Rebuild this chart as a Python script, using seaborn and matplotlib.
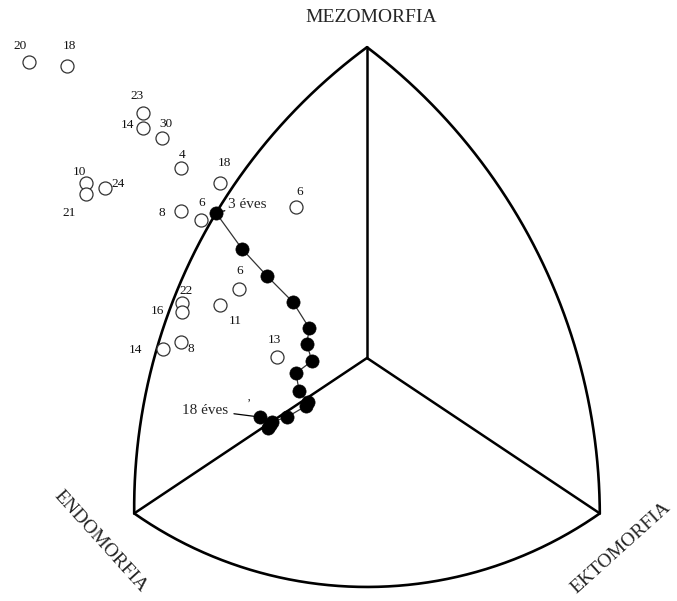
import numpy as np
import pandas as pd
import matplotlib
matplotlib.use("Agg")
import matplotlib.pyplot as plt
import seaborn as sns

# Somatochart coordinates: X = ecto - endo, Y = 2*meso - (endo + ecto)

# Open circles: reference groups, labelled with their code numbers
group_labels = ["20", "18", "23", "14", "30", "4", "18", "10", "21", "24",
                "8", "6", "6", "6", "11", "22", "16", "14", "8", "13"]
group_x = [-8.71, -7.73, -5.77, -5.77, -5.28, -4.79, -3.79, -7.24, -7.24, -6.75,
           -4.79, -4.28, -1.83, -3.30, -3.79, -4.77, -4.77, -5.26, -4.79, -2.32]
group_y = [11.43, 11.27, 9.46, 8.88, 8.49, 7.34, 6.76, 6.76, 6.33, 6.56,
           5.68, 5.33, 5.83, 2.66, 2.05, 2.12, 1.78, 0.35, 0.62, 0.04]

# Filled circles: mean somatotype by age, 3 to 18 years
ages = list(range(3, 19))
age_x = [-3.89, -3.22, -2.58, -1.91, -1.49, -1.55, -1.42, -1.83,
         -1.75, -1.52, -1.57, -2.06, -2.45, -2.55, -2.50, -2.76]
age_y = [5.60, 4.21, 3.17, 2.16, 1.16, 0.54, -0.12, -0.58,
         -1.27, -1.70, -1.85, -2.28, -2.47, -2.70, -2.59, -2.28]

# Chart frame: corners of the somatochart and a point on each bounding arc
corner_endo = (-6.0, -6.0)
corner_meso = (0.0, 12.0)
corner_ecto = (6.0, -6.0)
arc_mid_left = (-3.89, 5.60)
arc_mid_right = (3.94, 5.33)
arc_mid_bottom = (0.0, -8.84)

# Label offsets in pixels (dx, dy) for the group numbers
label_offsets = [(-9, 16), (2, 20), (-6, 17), (-16, 3), (4, 14), (1, 13), (5, 20),
                 (-7, 11), (-17, -19), (13, 4), (-19, -2), (1, 17), (4, 15),
                 (1, 18), (15, -16), (4, 12), (-24, 1), (-27, -1), (10, -7), (-3, 17)]

SX, SY = 38.8, 25.9  # pixels per unit on each axis
W, H = 677, 601
CX, CY = 367, 358    # pixel position of the origin

sns.set_theme(style="white")
plt.rcParams["font.family"] = ["Liberation Serif", "DejaVu Serif"]

fig = plt.figure(figsize=(W / 100, H / 100), dpi=100)
ax = fig.add_axes([0, 0, 1, 1])


def arc_through(p0, pm, p1, n=200):
    """Circular arc (circular on screen) from p0 through pm to p1."""
    a = np.array([p0[0] * SX, p0[1] * SY])
    b = np.array([pm[0] * SX, pm[1] * SY])
    c = np.array([p1[0] * SX, p1[1] * SY])
    d = 2 * (a[0] * (b[1] - c[1]) + b[0] * (c[1] - a[1]) + c[0] * (a[1] - b[1]))
    ux = ((a @ a) * (b[1] - c[1]) + (b @ b) * (c[1] - a[1]) + (c @ c) * (a[1] - b[1])) / d
    uy = ((a @ a) * (c[0] - b[0]) + (b @ b) * (a[0] - c[0]) + (c @ c) * (b[0] - a[0])) / d
    r = np.hypot(a[0] - ux, a[1] - uy)
    t0 = np.arctan2(a[1] - uy, a[0] - ux)
    tm = np.arctan2(b[1] - uy, b[0] - ux)
    t1 = np.arctan2(c[1] - uy, c[0] - ux)
    t1u = t0 + (t1 - t0) % (2 * np.pi)
    tmu = t0 + (tm - t0) % (2 * np.pi)
    if tmu > t1u:
        t1u -= 2 * np.pi
    t = np.linspace(t0, t1u, n)
    return (ux + r * np.cos(t)) / SX, (uy + r * np.sin(t)) / SY


frame_kw = dict(color="black", lw=1.9, solid_capstyle="round", zorder=1)
for p0, pm, p1 in [(corner_endo, arc_mid_left, corner_meso),
                   (corner_meso, arc_mid_right, corner_ecto),
                   (corner_endo, arc_mid_bottom, corner_ecto)]:
    xs, ys = arc_through(p0, pm, p1)
    ax.plot(xs, ys, **frame_kw)
for corner in (corner_endo, corner_meso, corner_ecto):
    ax.plot([0, corner[0]], [0, corner[1]], color="black", lw=1.8, zorder=1)

groups = pd.DataFrame({"x": group_x, "y": group_y, "label": group_labels})
growth = pd.DataFrame({"x": age_x, "y": age_y, "age": ages})

sns.lineplot(data=growth, x="x", y="y", sort=False, estimator=None,
             color="#333333", lw=0.9, ax=ax, zorder=2)
sns.scatterplot(data=groups, x="x", y="y", s=88, marker="o",
                facecolor="white", edgecolor="#333333", linewidth=0.9,
                ax=ax, zorder=3)
sns.scatterplot(data=growth, x="x", y="y", s=90, marker="o",
                color="black", edgecolor="black", linewidth=0.5,
                ax=ax, zorder=4)
ax.set_xlim(-CX / SX, (W - CX) / SX)
ax.set_ylim(-(H - CY) / SY, CY / SY)
ax.set_axis_off()

for (x, y, lab), (dx, dy) in zip(zip(group_x, group_y, group_labels), label_offsets):
    ax.annotate(lab, (x, y), xytext=(dx, dy), textcoords="offset pixels",
                ha="center", va="center", fontsize=9.5, color="#111111", zorder=5)

ax.annotate("3 éves", (age_x[0], age_y[0]), xytext=(12, 8),
            textcoords="offset pixels", ha="left", va="center", fontsize=11,
            arrowprops=dict(arrowstyle="-", lw=0.9, color="black",
                            shrinkA=0, shrinkB=0), zorder=5)
ax.annotate("18 éves", (age_x[-1], age_y[-1]), xytext=(-32, 7),
            textcoords="offset pixels", ha="right", va="center", fontsize=11,
            arrowprops=dict(arrowstyle="-", lw=0.9, color="black",
                            shrinkA=2, shrinkB=0), zorder=5)
ax.annotate("\u2019", (age_x[-1], age_y[-1]), xytext=(-11, 13),
            textcoords="offset pixels", ha="center", va="center", fontsize=9)

fig.text(371 / W, 1 - 18 / H, "MEZOMORFIA", ha="center", va="center", fontsize=14)
fig.text(100 / W, 1 - 541 / H, "ENDOMORFIA", ha="center", va="center",
         fontsize=14, rotation=-48, rotation_mode="anchor")
fig.text(621 / W, 1 - 548 / H, "EKTOMORFIA", ha="center", va="center",
         fontsize=14, rotation=42, rotation_mode="anchor")

fig.savefig("out.png", dpi=100, facecolor="white")
